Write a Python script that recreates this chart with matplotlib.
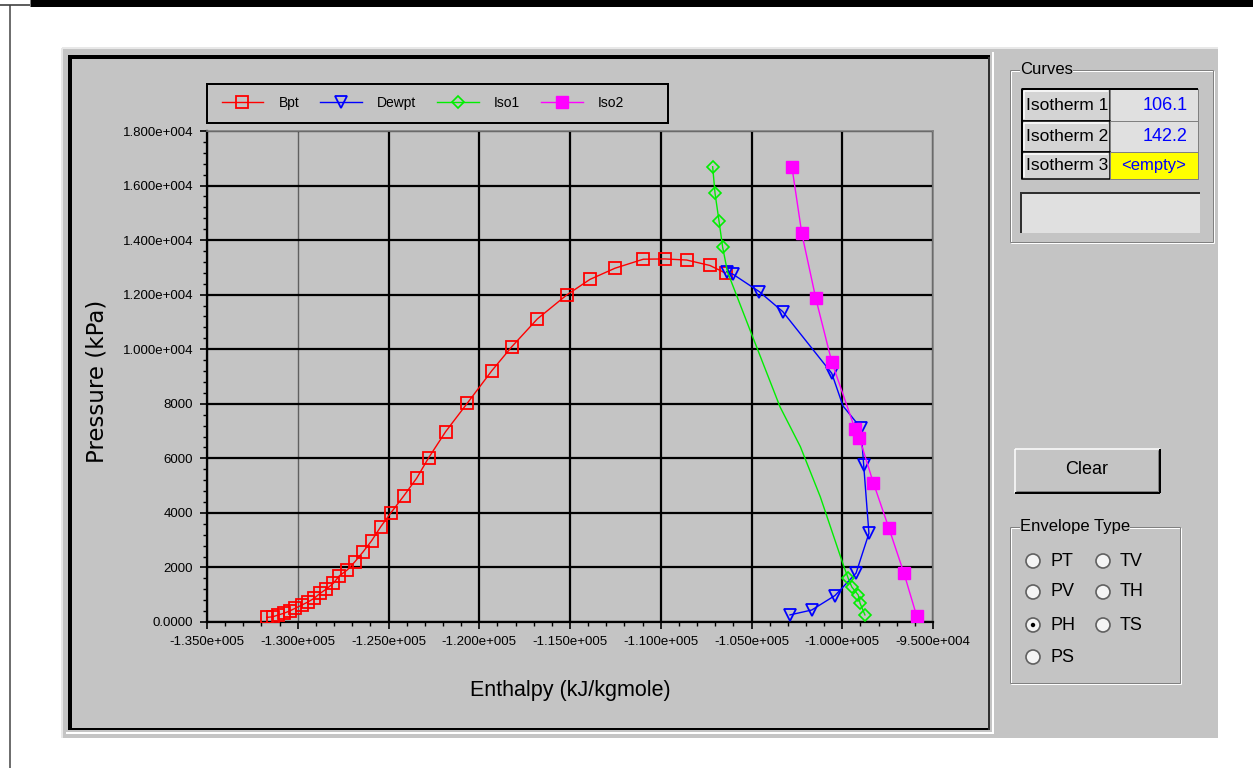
import matplotlib
matplotlib.use('Agg')
import matplotlib.pyplot as plt
from matplotlib.patches import Rectangle, Circle
from matplotlib.ticker import FixedLocator, MultipleLocator

# ---------------- data ----------------
bpt_h = [-131710, -131380, -131070, -130760, -130430, -130150, -129780, -129420,
         -129100, -128770, -128440, -128040, -127710, -127270, -126850, -126390,
         -125930, -125430, -124860, -124160, -123450, -122790, -121850, -120660,
         -119310, -118210, -116800, -115180, -113900, -112520, -110960, -109770,
         -108570, -107290, -106430]
bpt_p = [170, 190, 260, 320, 410, 500, 620, 740, 870, 1050, 1200, 1420, 1690, 1910,
         2210, 2580, 2980, 3490, 4010, 4620, 5270, 6020, 6980, 8020, 9210, 10090,
         11110, 11990, 12560, 12970, 13300, 13310, 13270, 13070, 12790]

dew_h = [-106370, -106000, -104570, -103280, -100580, -99960, -98970, -98820, -98530,
         -99240, -100400, -101680, -102880]
dew_p = [12840, 12740, 12110, 11380, 9120, 7920, 7110, 5760, 3250, 1790, 970, 440, 260]
dew_marked = [0, 1, 2, 3, 4, 6, 7, 8, 9, 10, 11, 12]

iso1_h = [-107140, -107010, -106790, -106590, -106320, -105080, -103430, -102310,
          -101210, -99940, -99670, -99480, -99120, -99020, -98750]
iso1_p = [16690, 15720, 14700, 13740, 12830, 10700, 7890, 6430, 4590, 2090, 1600,
          1290, 990, 690, 260]
iso1_marked = [0, 1, 2, 3, 10, 11, 12, 13, 14]

iso2_h = [-102770, -102230, -101460, -100580, -99300, -99060, -98290, -97430,
          -96600, -95900]
iso2_p = [16670, 14250, 11870, 9540, 7080, 6750, 5110, 3440, 1790, 220]

x_ticks = [-135000, -130000, -125000, -120000, -115000, -110000, -105000, -100000, -95000]
x_labels = ['-1.350e+005', '-1.300e+005', '-1.250e+005', '-1.200e+005', '-1.150e+005',
            '-1.100e+005', '-1.050e+005', '-1.000e+005', '-9.500e+004']
y_ticks = [0, 2000, 4000, 6000, 8000, 10000, 12000, 14000, 16000, 18000]
y_labels = ['0.0000', '2000', '4000', '6000', '8000', '1.000e+004', '1.200e+004',
            '1.400e+004', '1.600e+004', '1.800e+004']

series_names = ['Bpt', 'Dewpt', 'Iso1', 'Iso2']
isotherm_names = ['Isotherm 1', 'Isotherm 2', 'Isotherm 3']
isotherm_values = ['106.1', '142.2', '<empty>']
envelope_types = ['PT', 'TV', 'PV', 'TH', 'PH', 'TS', 'PS']
envelope_selected = 'PH'

# ---------------- style ----------------
W, H = 1253, 768
GRAY = '#c4c4c4'
UI = ['Liberation Sans', 'DejaVu Sans']
PX = 0.72  # points per pixel

fig = plt.figure(figsize=(W / 100, H / 100), dpi=100)
fig.patch.set_facecolor('white')

bg = fig.add_axes([0, 0, 1, 1], zorder=0)
bg.set_xlim(0, W)
bg.set_ylim(H, 0)
bg.axis('off')


def rect(x0, y0, x1, y1, fc='none', ec='none', lw=0, z=1):
    bg.add_patch(Rectangle((x0, y0), x1 - x0, y1 - y0, facecolor=fc,
                           edgecolor=ec, linewidth=lw * PX, zorder=z))


def seg(x0, y0, x1, y1, c, lw=1, z=2):
    bg.plot([x0, x1], [y0, y1], color=c, linewidth=lw * PX, zorder=z,
            solid_capstyle='butt')


def raised(x0, y0, x1, y1, fc, z=2):
    rect(x0, y0, x1, y1, fc=fc, z=z)
    seg(x0, y0, x1, y0, 'white', 1.5, z + 0.1)
    seg(x0, y0, x0, y1, 'white', 1.5, z + 0.1)
    seg(x0, y1, x1, y1, 'black', 2, z + 0.1)
    seg(x1, y0, x1, y1, 'black', 2, z + 0.1)
    seg(x0 + 1, y1 - 2, x1 - 2, y1 - 2, '#808080', 1, z + 0.1)
    seg(x1 - 2, y0 + 1, x1 - 2, y1 - 2, '#808080', 1, z + 0.1)


def groupbox(x0, y0, x1, y1, title):
    for (a, b, c, d) in [(x0, y0, x1, y0), (x0, y0, x0, y1), (x0, y1, x1, y1), (x1, y0, x1, y1)]:
        seg(a, b, c, d, '#808080', 1, 3)
        seg(a + 1, b + 1, c + 1, d + 1, 'white', 1, 3)
    bg.text(x0 + 10, y0, title, fontsize=12, family=UI, ha='left', va='center',
            zorder=4, bbox=dict(facecolor=GRAY, edgecolor='none', pad=0.3))


# window chrome
seg(30, 3, W, 3, 'black', 7, 2)
seg(0, 5, 30, 5, '#606060', 2, 2)
seg(10, 5, 10, H, '#404040', 1.5, 2)

# outer gray panel
rect(62, 48, 1218, 738, fc=GRAY, z=1)
seg(62, 48, 1218, 48, '#e8e8e8', 2, 1.5)
seg(62, 48, 62, 738, '#e8e8e8', 2, 1.5)

# chart frame (sunken)
seg(68, 57, 990, 57, 'black', 4, 3)
seg(70, 57, 70, 730, 'black', 4, 3)
seg(68, 729, 990, 729, 'black', 2, 3)
seg(989, 57, 989, 730, '#303030', 2, 3)
seg(66, 733, 993, 733, 'white', 2, 3)
seg(993, 52, 993, 734, 'white', 2, 3)

# ---------------- plot ----------------
ax = fig.add_axes([207 / W, (H - 622) / H, 726 / W, 491 / H], zorder=2)
ax.set_facecolor(GRAY)

l_bpt, = ax.plot(bpt_h, bpt_p, color='#ff0000', lw=1.0, marker='s', ms=8.5,
                 mfc='none', mec='#ff0000', mew=1.3, zorder=3)
l_dew, = ax.plot(dew_h, dew_p, color='#0000ff', lw=1.0, marker='v', ms=9,
                 mfc='none', mec='#0000ff', mew=1.3, markevery=dew_marked, zorder=3)
l_iso1, = ax.plot(iso1_h, iso1_p, color='#00ee00', lw=1.0, marker='D', ms=6.5,
                  mfc='none', mec='#00ee00', mew=1.2, markevery=iso1_marked, zorder=4)
l_iso2, = ax.plot(iso2_h, iso2_p, color='#ff00ff', lw=1.0, marker='s', ms=9,
                  mfc='#ff00ff', mec='#ff00ff', zorder=5)

ax.set_xlim(x_ticks[0], x_ticks[-1])
ax.set_ylim(y_ticks[0], y_ticks[-1])
ax.xaxis.set_major_locator(FixedLocator(x_ticks))
ax.yaxis.set_major_locator(FixedLocator(y_ticks))
ax.set_xticklabels(x_labels, family=UI, fontsize=9.5)
ax.set_yticklabels(y_labels, family=UI, fontsize=9.5)
ax.xaxis.set_minor_locator(MultipleLocator(1000))
ax.yaxis.set_minor_locator(MultipleLocator(400))
ax.tick_params(which='major', direction='out', length=5, width=1.2, pad=5)
ax.tick_params(which='minor', direction='out', length=3, width=1.0)
ax.grid(True, which='major', color='black', linewidth=1.6)
for sp in ['left', 'bottom']:
    ax.spines[sp].set_linewidth(1.6)
for sp in ['top', 'right']:
    ax.spines[sp].set_color('#808080')
    ax.spines[sp].set_linewidth(1.2)
xg = ax.get_xgridlines()
xg[1].set_color('#606060')
xg[1].set_linewidth(1.0)

ax.set_xlabel('Enthalpy (kJ/kgmole)', fontsize=15.5, family=UI)
ax.xaxis.set_label_coords(0.5, -0.118)
ax.set_ylabel('Pressure (kPa)', fontsize=16.5, family=['DejaVu Sans'])
ax.yaxis.set_label_coords(-0.135, 0.49)

# legend
rect(207, 84, 668, 123, fc='none', ec='black', lw=2, z=3)
leg = fig.legend([l_bpt, l_dew, l_iso1, l_iso2], series_names, loc='center left',
                 bbox_to_anchor=(209 / W, 1 - 103 / H), ncol=4, frameon=False,
                 prop={'family': UI, 'size': 10}, handlelength=3.0,
                 handletextpad=1.1, columnspacing=1.5, numpoints=1)

# ---------------- right panel ----------------
groupbox(1010, 70, 1213, 242, 'Curves')
rows = [(89, 121), (121, 152), (152, 179)]
for (y0, y1), name, val in zip(rows, isotherm_names, isotherm_values):
    rect(1022, y0, 1110, y1, fc='#d4d4d4', ec='black', lw=1.5, z=3)
    seg(1024, y0 + 2, 1108, y0 + 2, 'white', 1.5, 3.2)
    seg(1024, y0 + 2, 1024, y1 - 2, 'white', 1.5, 3.2)
    bg.text(1026, (y0 + y1) / 2, name, fontsize=12.5, family=UI, ha='left',
            va='center', zorder=4)
    empty = val.startswith('<')
    rect(1110, y0, 1198, y1, fc='#ffff00' if empty else '#e0e0e0', ec='#808080',
         lw=1, z=3)
    if empty:
        bg.text(1154, (y0 + y1) / 2, val, fontsize=12, family=UI, color='#0000ff',
                ha='center', va='center', zorder=4)
    else:
        bg.text(1188, (y0 + y1) / 2, val, fontsize=13, family=UI, color='#0000ff',
                ha='right', va='center', zorder=4)
seg(1022, 89, 1022, 179, 'black', 2, 3.3)
seg(1022, 89, 1198, 89, 'black', 2, 3.3)

rect(1020, 192, 1200, 233, fc='#e0e0e0', z=3)
seg(1020, 193, 1200, 193, '#303030', 2, 3.2)
seg(1021, 192, 1021, 233, '#303030', 2, 3.2)

raised(1015, 449, 1160, 493, GRAY, z=3)
bg.text(1087, 470, 'Clear', fontsize=13, family=UI, ha='center', va='center', zorder=4)

groupbox(1010, 527, 1180, 683, 'Envelope Type')
radio_pos = [(1033, 561), (1103, 561), (1033, 592), (1103, 592), (1033, 625), (1103, 625),
             (1033, 657)]
for (cx, cy), lab in zip(radio_pos, envelope_types):
    bg.add_patch(Circle((cx, cy), 7, facecolor='#f4f4f4', edgecolor='#606060',
                        linewidth=1.2, zorder=3))
    if lab == envelope_selected:
        bg.add_patch(Circle((cx, cy), 2.2, facecolor='black', edgecolor='none', zorder=4))
    bg.text(cx + 17, cy, lab, fontsize=13, family=UI, ha='left', va='center', zorder=4)

fig.savefig('out.png', dpi=100, facecolor='white')
